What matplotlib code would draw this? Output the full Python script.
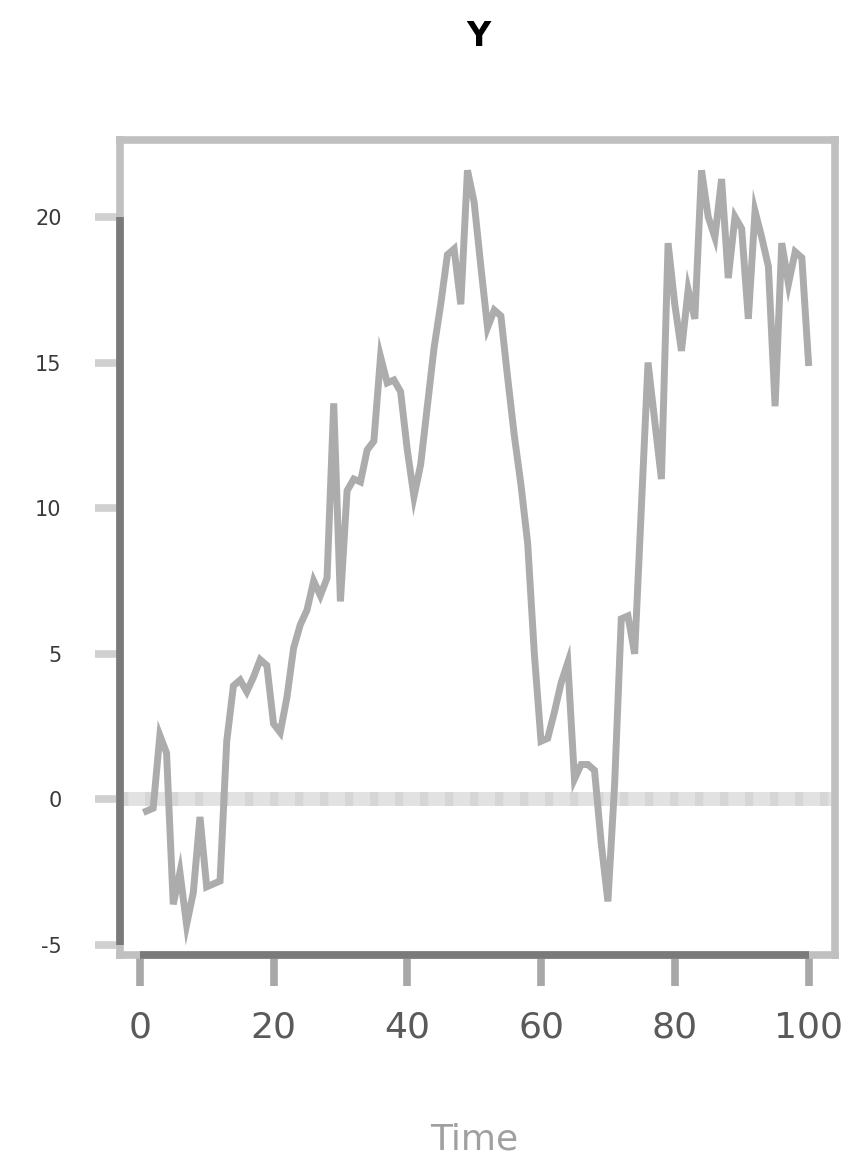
import numpy as np
import matplotlib
matplotlib.use("Agg")
import matplotlib.pyplot as plt

# time series, t = 1..100
t = np.arange(1, 101)
y = [-0.4, -0.3, 2.2, 1.6, -3.6, -2.5, -4.3, -3.2, -0.6, -3.0,
     -2.9, -2.8, 2.0, 3.9, 4.1, 3.7, 4.2, 4.8, 4.6, 2.6,
     2.3, 3.5, 5.2, 6.0, 6.5, 7.5, 7.0, 7.6, 13.6, 6.8,
     10.6, 11.0, 10.9, 12.0, 12.3, 15.2, 14.3, 14.4, 14.0, 12.0,
     10.4, 11.5, 13.5, 15.5, 17.0, 18.7, 18.9, 17.0, 21.6, 20.5,
     18.3, 16.2, 16.8, 16.6, 14.5, 12.5, 10.8, 8.8, 5.0, 2.0,
     2.1, 3.0, 4.0, 4.7, 0.7, 1.2, 1.2, 1.0, -1.5, -3.5,
     0.5, 6.2, 6.3, 5.0, 10.0, 15.0, 13.0, 11.0, 19.1, 17.0,
     15.4, 17.5, 16.5, 21.6, 20.0, 19.3, 21.3, 17.9, 20.0, 19.6,
     16.5, 20.2, 19.3, 18.3, 13.5, 19.1, 17.7, 18.8, 18.6, 15.0]

xticks = [0, 20, 40, 60, 80, 100]
yticks = [-5, 0, 5, 10, 15, 20]

W, H = 851, 1162
fig = plt.figure(figsize=(W / 100, H / 100), dpi=100)
ax = fig.add_axes([120 / W, 1 - 955 / H, (835 - 120) / W, (955 - 140) / H])

ax.axhline(0, color='#e2e2e2', lw=10, zorder=1)
ax.axhline(0, color='#d6d6d6', lw=10, ls=(0, (0.6, 1.2)), zorder=1)
ax.plot(t, y, color='#acacac', lw=5, solid_joinstyle='miter', zorder=2)

ax.set_xlim(-2.96, 103.96)
ax.set_ylim(-5.34, 22.64)

for s in ax.spines.values():
    s.set_color('#c0c0c0')
    s.set_linewidth(5.5)

# R style axis lines between the outer ticks
ax.plot([-5.34 * 0 + 0, 100], [-5.34, -5.34], color='#7a7a7a', lw=5.5,
        clip_on=False, zorder=5, solid_capstyle='butt')
ax.plot([-2.96, -2.96], [-5, 20], color='#7a7a7a', lw=5.5,
        clip_on=False, zorder=5, solid_capstyle='butt')

ax.set_xticks(xticks)
ax.set_xticklabels([str(v) for v in xticks], fontsize=26, color='#5a5a5a')
ax.set_yticks(yticks)
ax.set_yticklabels([str(v) for v in yticks], fontsize=15, color='#3a3a3a')
ax.tick_params(axis='x', length=22, width=5.5, color='#a8a8a8', pad=18)
ax.tick_params(axis='y', length=18, width=5.5, color='#d0d0d0', pad=24)

fig.text(0.562, 1 - 36 / H, 'Y', ha='center', va='center', fontsize=24,
         fontweight='bold', color='black')
fig.text(0.557, 1 - 1140 / H, 'Time', ha='center', va='center', fontsize=26,
         color='#a0a0a0')

fig.savefig('out.png', dpi=100)
